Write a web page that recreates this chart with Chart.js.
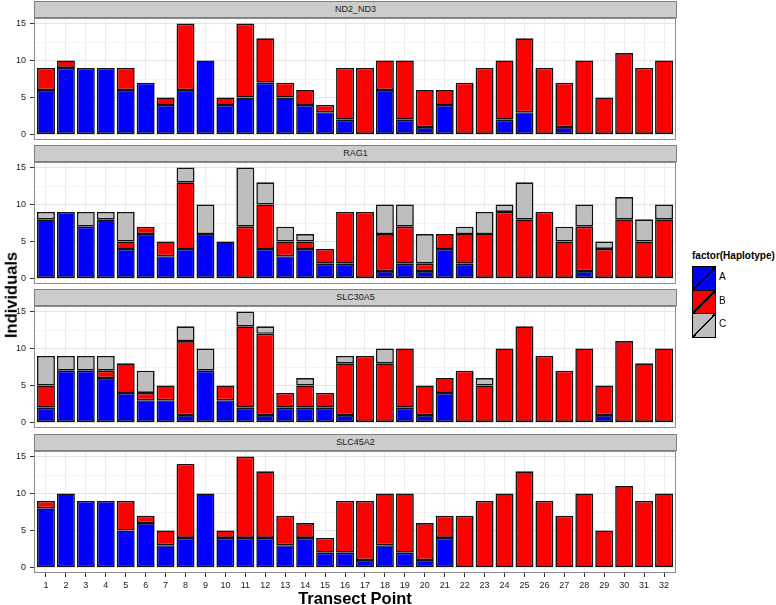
<!DOCTYPE html>
<html>
<head>
<meta charset="utf-8">
<script src="https://cdn.jsdelivr.net/npm/chart.js@4.4.0/dist/chart.umd.min.js"></script>
<style>
    body { margin: 0; background: #fff; font-family: "Liberation Sans", Arial, sans-serif; }
    #page { position: relative; width: 776px; height: 605px; overflow: hidden; }
    .panel { position: absolute; left: 0; width: 686px; }
    .strip {
        position: absolute; left: 34px; width: 643px; height: 17px; box-sizing: border-box;
        background: #cccccc; border: 1px solid #808080; color: #1a1a1a;
        font-size: 9px; line-height: 15px; text-align: center;
    }
    .axis-title { position: absolute; font-weight: bold; font-size: 16.5px; line-height: 1; white-space: nowrap; color: #000; }
    #ytitle { left: 11px; top: 295px; transform: translate(-50%, -50%) rotate(-90deg); }
    #xtitle { left: 355px; top: 590px; transform: translateX(-50%); }
    #legend { position: absolute; left: 692px; top: 251px; }
    .legend-title { font-weight: bold; font-size: 10px; line-height: 1; white-space: nowrap; margin-bottom: 5px; }
    .key-row { position: relative; height: 23.5px; }
    .key { position: absolute; left: 0; top: 0; width: 24px; height: 24.5px; box-sizing: border-box; border: 1px solid #000; }
    .key-label { position: absolute; left: 27px; top: 6px; font-size: 10px; line-height: 1; }
</style>
</head>
<body>
<div id="page">
    <div class="panel" style="top:8px;height:142px"><canvas id="panel0"></canvas></div>
    <div class="panel" style="top:152px;height:142px"><canvas id="panel1"></canvas></div>
    <div class="panel" style="top:296px;height:142px"><canvas id="panel2"></canvas></div>
    <div class="panel" style="top:441px;height:152px"><canvas id="panel3"></canvas></div>
    <div class="strip" style="top:1px">ND2_ND3</div>
    <div class="strip" style="top:145px">RAG1</div>
    <div class="strip" style="top:289px">SLC30A5</div>
    <div class="strip" style="top:434px">SLC45A2</div>
    <div class="axis-title" id="ytitle">Individuals</div>
    <div class="axis-title" id="xtitle">Transect Point</div>
    <div id="legend"><div class="legend-title">factor(Haplotype)</div></div>
</div>
<script>
const transectPoints = ["1", "2", "3", "4", "5", "6", "7", "8", "9", "10", "11", "12", "13", "14", "15", "16",
    "17", "18", "19", "20", "21", "22", "23", "24", "25", "26", "27", "28", "29", "30", "31", "32"];
const genes = ["ND2_ND3", "RAG1", "SLC30A5", "SLC45A2"];
const haplotypes = ["A", "B", "C"];
const haplotypeColors = ["#0000ff", "#ff0000", "#bebebe"];
const yTicks = [0, 2.5, 5, 7.5, 10, 12.5, 15];

// ND2_ND3
const nd2A = [6, 9, 9, 9, 6, 7, 4, 6, 10, 4, 5, 7, 5, 4, 3, 2, 0, 6, 2, 1, 4, 0, 0, 2, 3, 0, 1, 0, 0, 0, 0, 0];
const nd2B = [3, 1, 0, 0, 3, 0, 1, 9, 0, 1, 10, 6, 2, 2, 1, 7, 9, 4, 8, 5, 2, 7, 9, 8, 10, 9, 6, 10, 5, 11, 9, 10];
const nd2C = [0, 0, 0, 0, 0, 0, 0, 0, 0, 0, 0, 0, 0, 0, 0, 0, 0, 0, 0, 0, 0, 0, 0, 0, 0, 0, 0, 0, 0, 0, 0, 0];

// RAG1
const ragA = [8, 9, 7, 8, 4, 6, 3, 4, 6, 5, 0, 4, 3, 4, 2, 2, 0, 1, 2, 1, 4, 2, 0, 0, 0, 0, 0, 1, 0, 0, 0, 0];
const ragB = [0, 0, 0, 0, 1, 1, 2, 9, 0, 0, 7, 6, 2, 1, 2, 7, 9, 5, 5, 1, 2, 4, 6, 9, 8, 9, 5, 6, 4, 8, 5, 8];
const ragC = [1, 0, 2, 1, 4, 0, 0, 2, 4, 0, 8, 3, 2, 1, 0, 0, 0, 4, 3, 4, 0, 1, 3, 1, 5, 0, 2, 3, 1, 3, 3, 2];

// SLC30A5
const slc30A = [2, 7, 7, 6, 4, 3, 3, 1, 7, 3, 2, 1, 2, 2, 2, 1, 0, 0, 2, 1, 4, 0, 0, 0, 0, 0, 0, 0, 1, 0, 0, 0];
const slc30B = [3, 0, 0, 1, 4, 1, 2, 10, 0, 2, 11, 11, 2, 3, 2, 7, 9, 8, 8, 4, 2, 7, 5, 10, 13, 9, 7, 10, 4, 11, 8, 10];
const slc30C = [4, 2, 2, 2, 0, 3, 0, 2, 3, 0, 2, 1, 0, 1, 0, 1, 0, 2, 0, 0, 0, 0, 1, 0, 0, 0, 0, 0, 0, 0, 0, 0];

// SLC45A2
const slc45A = [8, 10, 9, 9, 5, 6, 3, 4, 10, 4, 4, 4, 3, 4, 2, 2, 1, 3, 2, 1, 4, 0, 0, 0, 0, 0, 0, 0, 0, 0, 0, 0];
const slc45B = [1, 0, 0, 0, 4, 1, 2, 10, 0, 1, 11, 9, 4, 2, 2, 7, 8, 7, 8, 5, 3, 7, 9, 10, 13, 9, 7, 10, 5, 11, 9, 10];
const slc45C = [0, 0, 0, 0, 0, 0, 0, 0, 0, 0, 0, 0, 0, 0, 0, 0, 0, 0, 0, 0, 0, 0, 0, 0, 0, 0, 0, 0, 0, 0, 0, 0];

const panelCounts = [
    [nd2A, nd2B, nd2C],
    [ragA, ragB, ragC],
    [slc30A, slc30B, slc30C],
    [slc45A, slc45B, slc45C],
];

const fontFamily = '"Liberation Sans", Arial, sans-serif';

// grey border around each panel, drawn over the bars like ggplot
const panelBorder = {
    id: "panelBorder",
    afterDraw(chart) {
        const { ctx, chartArea: a } = chart;
        ctx.save();
        ctx.strokeStyle = "#8c8c8c";
        ctx.lineWidth = 1;
        ctx.strokeRect(a.left + 0.5, a.top + 0.5, a.width - 1, a.height - 1);
        ctx.restore();
    },
};

function makePanel(i) {
    const last = i === genes.length - 1;
    const ctx = document.getElementById("panel" + i).getContext("2d");

    return new Chart(ctx, {
        type: "bar",
        data: {
            datasets: haplotypes.map((h, k) => ({
                label: h,
                data: transectPoints.map((p, j) => ({ x: Number(p), y: panelCounts[i][k][j] || null })),
                backgroundColor: haplotypeColors[k],
                borderColor: "#111111",
                borderWidth: 1.6,
                borderSkipped: false,
                categoryPercentage: 1,
                barPercentage: 0.9,
            })),
        },
        options: {
            responsive: true,
            maintainAspectRatio: false,
            animation: false,
            events: [],
            layout: { padding: { top: 10, right: 10, bottom: last ? 0 : 10, left: 0 } },
            plugins: { legend: { display: false }, tooltip: { enabled: false } },
            scales: {
                x: {
                    type: "linear",
                    stacked: true,
                    offset: false,
                    min: 0.4,
                    max: 32.6,
                    afterBuildTicks: (s) => {
                        s.ticks = transectPoints.map((p) => ({ value: Number(p) }));
                    },
                    afterFit: (s) => {
                        s.height = last ? 20 : 0;
                    },
                    grid: {
                        offset: false,
                        color: "#ebebeb",
                        drawTicks: last,
                        tickLength: 4,
                        tickColor: "#333333",
                    },
                    border: { display: false },
                    ticks: {
                        display: last,
                        autoSkip: false,
                        maxRotation: 0,
                        padding: 3,
                        color: "#1a1a1a",
                        font: { family: fontFamily, size: 9 },
                        callback: (v) => String(v),
                    },
                },
                y: {
                    stacked: true,
                    min: -0.75,
                    max: 15.75,
                    afterBuildTicks: (s) => {
                        s.ticks = yTicks.map((v) => ({ value: v }));
                    },
                    afterFit: (s) => {
                        s.width = 34;
                    },
                    grid: {
                        color: (c) => (c.tick && c.tick.value % 5 === 0 ? "#e4e4e4" : "#f5f5f5"),
                        tickColor: (c) => (c.tick && c.tick.value % 5 === 0 ? "#333333" : "rgba(0,0,0,0)"),
                        tickLength: 4,
                    },
                    border: { display: false },
                    ticks: {
                        padding: 4,
                        color: "#1a1a1a",
                        font: { family: fontFamily, size: 9 },
                        callback: (v) => (v % 5 === 0 ? String(v) : ""),
                    },
                },
            },
        },
        plugins: [panelBorder],
    });
}

genes.forEach((g, i) => makePanel(i));

// legend keys with the diagonal slash
const legend = document.getElementById("legend");
haplotypes.forEach((h, k) => {
    const c = haplotypeColors[k];
    const row = document.createElement("div");
    row.className = "key-row";
    row.innerHTML =
        '<div class="key" style="background:linear-gradient(to bottom right, ' + c + ' calc(50% - 0.8px), #000 calc(50% - 0.8px), #000 calc(50% + 0.8px), ' + c + ' calc(50% + 0.8px))"></div>' +
        '<div class="key-label">' + h + "</div>";
    legend.appendChild(row);
});
</script>
</body>
</html>
